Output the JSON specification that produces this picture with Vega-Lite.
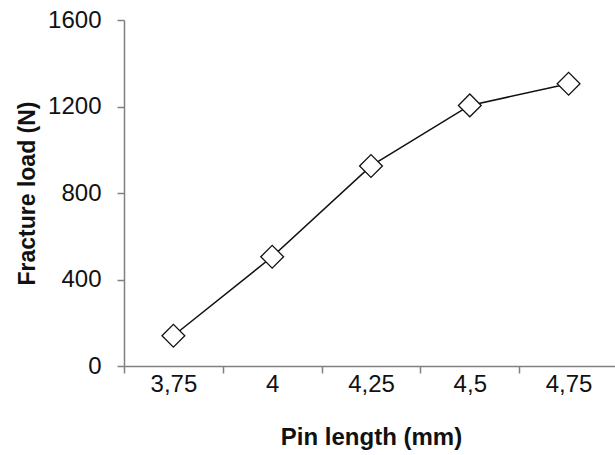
{
  "$schema": "https://vega.github.io/schema/vega-lite/v6.json",
  "autosize": "none",
  "padding": {"left": 124, "top": 20, "right": 0, "bottom": 89},
  "width": 494,
  "height": 346,
  "background": "white",
  "config": {"view": {"stroke": null}, "font": "Liberation Sans"},
  "data": {"values": [
    {"pin": "3,75", "load": 140},
    {"pin": "4", "load": 505},
    {"pin": "4,25", "load": 925},
    {"pin": "4,5", "load": 1205},
    {"pin": "4,75", "load": 1305}
  ]},
  "encoding": {
    "x": {"field": "pin", "type": "ordinal", "sort": null,
      "scale": {"paddingInner": 0, "paddingOuter": 0},
      "axis": {"title": "Pin length (mm)", "labelAngle": 0, "tickBand": "extent",
        "domainColor": "#808080", "tickColor": "#808080", "tickSize": 7, "domainWidth": 1.5, "tickWidth": 1.5,
        "labelFont": "Liberation Sans", "labelFontSize": 24, "labelColor": "#111", "labelPadding": -1,
        "titleFont": "Liberation Sans", "titleFontSize": 24, "titleFontWeight": "bold", "titleColor": "#111", "titlePadding": 29}},
    "y": {"field": "load", "type": "quantitative",
      "scale": {"domain": [0, 1600]},
      "axis": {"title": "Fracture load (N)", "values": [0, 400, 800, 1200, 1600], "format": "d", "grid": false,
        "domainColor": "#808080", "tickColor": "#808080", "tickSize": 7, "domainWidth": 1.5, "tickWidth": 1.5,
        "labelFont": "Liberation Sans", "labelFontSize": 24, "labelColor": "#111", "labelPadding": 16,
        "titleFont": "Liberation Sans", "titleFontSize": 23, "titleFontWeight": "bold", "titleColor": "#111", "titlePadding": 8}}
  },
  "layer": [
    {"mark": {"type": "line", "color": "#111", "strokeWidth": 1.5}},
    {"mark": {"type": "point", "shape": "diamond", "size": 520, "filled": true, "fill": "white", "stroke": "#111", "strokeWidth": 1.3, "opacity": 1}}
  ]
}
